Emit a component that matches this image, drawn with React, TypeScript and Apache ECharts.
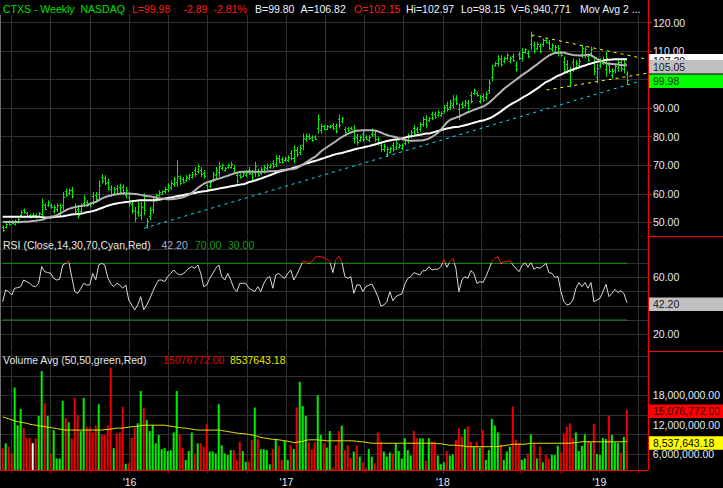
import React, { useEffect, useRef } from "react";
import * as echarts from "echarts";

const DAY = 86400000;
const FIRST_BAR_TIME = Date.UTC(2015, 2, 11);
const X_MIN = Date.UTC(2016, 0, 1) - 299.9 * DAY;
const X_MAX = Date.UTC(2016, 0, 1) + 1209 * DAY;

const highs = [
  48.9,50.1,50.7,50.7,50.9,51.5,54.2,54.8,53.6,53.0,
  53.3,53.0,53.6,58.3,56.6,57.7,56.6,56.0,56.6,56.6,
  60.6,61.8,61.8,62.4,56.6,56.0,56.6,59.5,57.7,57.1,
  60.6,60.6,64.7,66.9,66.5,65.3,63.0,62.4,63.0,63.6,
  63.3,62.4,60.1,57.7,55.4,57.1,57.1,60.1,51.3,55.4,
  58.9,60.1,61.2,61.2,62.4,63.6,64.7,65.9,71.8,66.5,
  65.9,66.5,67.1,67.7,69.4,70.4,69.4,68.3,63.6,64.7,
  67.7,69.4,71.2,70.6,69.4,70.6,71.2,70.0,67.7,67.1,
  67.7,68.3,69.4,68.3,71.2,68.8,69.4,70.0,70.6,70.6,
  71.8,73.5,73.5,72.9,72.9,73.5,75.3,77.0,76.5,77.0,
  81.1,81.1,81.1,80.5,80.5,87.9,84.6,84.1,84.1,84.1,
  84.7,84.7,87.8,87.0,83.5,83.5,83.5,84.1,81.1,80.5,
  82.3,80.5,80.5,82.9,82.3,80.0,78.2,77.6,76.5,76.5,
  78.2,78.8,77.6,77.6,79.4,81.1,82.3,84.1,83.5,85.2,
  87.0,87.6,87.0,88.8,88.8,89.3,88.8,91.1,92.3,92.9,
  94.6,94.6,91.7,92.3,92.9,92.9,95.8,96.9,95.8,94.6,
  95.2,95.8,100.0,105.1,106.3,108.6,108.6,108.1,109.2,108.1,
  109.2,106.3,109.8,111.0,111.0,110.4,116.9,113.3,113.3,112.8,
  114.5,114.5,113.9,112.8,112.2,112.2,109.8,108.1,106.9,104.6,
  107.5,106.9,107.5,112.2,111.6,109.2,111.6,107.5,105.7,107.5,
  108.1,109.8,106.3,104.0,105.7,107.5,107.5,106.9,102.97
];

const lows = [
  46.6,47.8,48.9,49.3,48.9,49.5,51.9,53.0,51.9,51.3,
  51.6,51.3,51.6,50.7,54.2,55.4,54.8,53.0,53.6,51.9,
  54.2,58.9,59.5,58.3,53.0,51.3,53.0,55.4,55.4,55.4,
  56.0,57.1,57.7,63.6,63.0,61.2,58.9,59.5,59.5,59.5,
  59.5,58.3,55.4,53.0,50.1,51.9,50.7,52.5,47.8,50.7,
  53.0,57.1,58.9,59.5,60.1,60.6,61.2,62.4,62.4,63.0,
  63.6,64.2,64.7,65.3,65.9,67.1,65.9,65.3,61.2,61.8,
  64.2,65.3,65.9,68.3,67.7,68.8,68.8,67.1,63.6,65.3,
  65.9,65.9,66.5,64.2,65.9,65.9,66.5,67.1,68.3,68.8,
  68.8,69.4,70.6,70.6,71.2,71.2,71.8,70.6,72.9,73.5,
  75.3,78.2,78.8,78.2,78.8,81.1,81.1,82.3,82.3,82.9,
  82.3,81.1,82.9,84.7,81.1,81.7,82.3,77.6,77.0,78.2,
  78.2,78.8,78.2,80.0,78.2,77.0,74.7,74.7,72.9,74.1,
  74.7,75.3,75.9,75.3,77.0,77.6,79.4,80.5,81.1,81.7,
  83.5,82.9,85.2,85.8,86.4,87.0,87.0,88.2,88.8,89.3,
  89.9,91.1,85.8,89.9,90.5,89.3,91.7,94.6,94.0,91.7,
  92.3,92.9,95.0,99.3,104.6,104.6,104.6,105.7,106.9,105.7,
  106.3,102.8,106.9,106.3,109.2,107.5,110.4,109.2,110.4,109.2,
  111.6,112.8,110.4,109.8,109.2,108.1,108.1,102.2,102.2,97.5,
  102.8,103.4,104.0,107.6,107.5,106.3,108.1,101.6,98.7,104.0,
  105.1,101.0,102.2,100.5,102.2,102.8,102.8,102.2,98.15
];

const opens = [
  48.2,48.5,50.2,50.3,49.5,50.1,52.6,54.3,53.1,52.5,
  52.4,52.5,52.2,53.0,55.9,56.1,56.1,53.9,54.5,53.3,
  56.1,60.9,60.2,61.2,55.5,54.6,54.1,56.6,57.0,56.6,
  59.2,59.6,59.8,65.9,65.5,64.1,61.8,60.4,62.0,62.4,
  62.2,59.5,58.7,56.3,53.8,53.5,52.6,57.8,48.9,52.1,
  54.8,58.0,59.6,60.0,60.8,61.5,62.3,63.5,64.0,65.5,
  65.2,64.9,65.4,66.0,68.4,68.1,68.4,67.4,62.9,62.7,
  65.3,66.5,67.5,69.0,68.2,69.3,69.5,69.1,66.5,66.6,
  66.4,66.6,68.5,67.1,67.5,67.9,67.4,68.0,69.0,69.3,
  70.9,70.6,72.6,72.2,71.7,71.9,74.3,72.5,75.4,74.6,
  77.0,79.1,80.4,79.8,80.0,83.1,82.2,83.6,82.8,83.3,
  84.0,83.6,86.3,85.4,82.8,83.0,83.1,79.6,79.9,78.9,
  81.1,80.0,78.9,80.9,81.1,79.1,77.2,75.6,74.0,74.8,
  77.2,76.4,76.4,76.0,77.7,78.7,80.3,83.0,82.8,82.8,
  84.6,86.2,85.7,87.9,88.1,87.7,87.5,89.1,91.3,90.4,
  91.3,93.6,89.9,91.6,91.2,91.8,94.6,95.3,95.3,92.6,
  94.3,93.8,96.5,101.0,105.1,105.8,107.4,106.4,107.6,106.4,
  108.3,105.2,108.9,107.7,109.7,109.5,112.4,112.1,111.3,111.7,
  112.5,114.0,112.9,110.7,110.1,109.3,109.3,106.3,105.5,102.5,
  106.1,104.5,105.1,109.0,108.7,108.3,109.2,105.7,100.8,105.1,
  106.0,103.6,105.1,101.6,103.3,104.2,106.1,103.6,102.15
];

const closes = [
  47.2,49.5,49.4,49.7,50.4,51.0,53.6,53.5,52.3,51.7,
  52.4,51.7,53.1,56.4,54.8,57.1,55.3,55.3,55.9,55.4,
  59.0,59.6,61.2,59.3,53.9,52.5,55.7,58.5,56.0,55.8,
  57.2,58.0,63.0,64.4,63.9,62.2,59.9,61.7,60.4,60.5,
  60.5,61.4,56.6,54.2,51.4,55.8,55.5,54.4,50.4,54.2,
  57.4,59.4,60.6,60.8,61.8,62.9,63.8,65.0,66.2,63.9,
  64.2,65.9,66.5,67.1,66.8,69.6,66.8,66.1,61.8,64.0,
  66.8,68.4,69.9,70.0,69.0,70.2,70.6,67.8,64.6,65.8,
  67.3,67.7,67.2,65.2,69.9,66.6,68.7,69.3,70.0,70.2,
  69.6,72.5,71.3,71.2,72.5,72.9,72.7,75.4,73.8,76.1,
  79.7,80.4,79.4,78.8,79.2,86.2,83.7,82.8,83.7,83.8,
  82.9,82.0,84.1,86.4,81.7,82.2,82.6,82.5,78.0,79.9,
  79.2,79.2,79.9,82.2,79.2,77.8,75.6,76.9,75.6,75.9,
  75.6,77.9,77.2,77.0,78.8,80.2,81.6,81.4,81.7,84.3,
  86.1,84.1,86.6,86.6,87.0,88.7,88.4,90.4,89.7,92.0,
  93.4,92.0,87.3,90.5,92.3,90.2,92.7,96.3,94.5,93.9,
  93.0,95.1,98.8,103.7,105.9,107.6,105.6,107.5,108.6,107.5,
  107.0,103.7,107.6,109.8,110.6,108.2,115.3,110.2,112.6,110.1,
  113.8,113.2,111.3,112.1,111.5,111.2,108.5,103.7,103.4,99.3,
  104.0,106.0,106.6,111.1,110.6,107.0,110.7,103.1,104.0,106.6,
  107.4,107.6,103.2,103.1,104.8,106.3,104.0,105.7,99.98
];

// weekly volume, millions of shares
const volumes = [
  7.2,8.2,7.5,6.1,19.6,11.9,15.2,11.3,9.3,9.3,
  8.2,9.2,13.8,23.0,16.4,13.8,6.1,10.9,5.1,5.1,
  16.9,13.4,12.5,9.2,17.5,14.0,10.7,17.5,11.6,11.4,
  10.4,11.8,16.2,9.9,9.9,11.8,23.7,7.2,10.2,10.4,
  15.7,4.0,4.1,9.3,11.3,12.3,18.9,15.5,13.0,10.7,
  11.9,8.2,9.9,7.0,7.2,6.6,6.8,10.4,18.9,10.0,
  7.2,4.8,6.6,10.4,6.1,8.2,8.2,7.5,12.1,6.5,
  6.5,6.1,16.2,7.8,6.1,5.8,6.8,6.8,4.8,8.5,
  6.6,4.4,4.4,8.9,15.5,9.1,7.0,7.0,6.8,3.9,
  7.0,9.0,7.6,4.8,8.7,4.8,7.8,7.0,15.5,20.8,
  15.8,13.8,8.4,7.0,8.4,18.0,9.9,8.2,7.3,10.7,
  3.2,7.8,10.7,11.8,6.8,7.8,5.2,6.5,7.8,5.45,
  4.3,3.2,7.0,5.45,4.1,10.4,8.5,6.5,5.45,6.3,
  6.1,8.2,6.6,5.1,9.2,6.8,5.7,10.7,9.2,9.2,
  9.2,4.6,9.2,8.5,8.5,5.7,3.9,4.3,6.6,5.7,
  5.9,8.9,11.3,9.6,11.1,11.7,8.5,7.5,8.5,7.3,
  10.9,4.8,6.8,13.2,11.8,10.4,8.0,4.8,6.5,7.5,
  15.7,8.9,8.2,4.8,5.1,6.1,10.0,8.2,5.1,7.5,
  4.3,5.8,5.0,5.8,5.8,7.7,6.3,10.2,11.6,12.3,
  9.2,10.4,6.6,7.7,10.0,8.7,8.4,12.1,6.0,5.8,
  9.3,9.1,13.8,9.9,8.4,8.3,6.3,9.5,15.076772
];

// G = up week, R = down week, W = unchanged
const volumeDirection =
  "RGRRGGGRRRWRGGRGRGGG" + "GRGRRRGGRRRRGRRRRGRR" + "RGRRRGGRGGGGGGGGGGGR" +
  "RGGGRGRRRGGGGGGGGRRR" + "GGRRGRGGGGRGRRGGRGRG" + "GGRRRGGRGGRRRGRRRGR" +
  "GRRGGRRRGGGRGGGGGGRRG" + "GRGRRGGGRGGRRRGRRGRG" + "RGGGGGRGGGRRRGGRGRGR" +
  "GRRGGGRRRRRGGGGRGRGG" + "GGRGGGRGR";

const volumeAvg = [
  13.6,13.4,13.2,13.0,12.8,12.6,12.5,12.4,12.3,12.1,
  12.0,11.9,11.8,11.7,11.6,11.5,11.4,11.3,11.2,11.1,
  11.0,10.9,10.9,10.9,10.9,10.9,10.9,10.9,10.9,10.9,
  10.9,10.9,10.9,10.9,11.0,11.0,11.1,11.2,11.3,11.3,
  11.3,11.4,11.5,11.6,11.6,11.7,11.8,11.9,11.9,11.9,
  11.9,11.9,11.9,11.9,11.9,11.8,11.7,11.6,11.5,11.4,
  11.3,11.3,11.2,11.1,11.0,10.9,10.9,10.9,10.9,10.9,
  10.9,10.9,10.9,10.8,10.7,10.6,10.5,10.4,10.3,10.2,
  10.2,10.1,10.0,9.9,9.8,9.6,9.4,9.3,9.2,9.1,
  9.0,9.0,8.9,8.8,8.7,8.6,8.5,8.3,8.4,8.5,
  8.6,8.8,8.9,8.9,8.9,8.9,8.8,8.8,8.7,8.7,
  8.7,8.7,8.7,8.7,8.7,8.7,8.7,8.7,8.6,8.5,
  8.5,8.4,8.3,8.2,8.2,8.2,8.2,8.2,8.2,8.2,
  8.2,8.2,8.2,8.2,8.2,8.2,8.2,8.2,8.2,8.2,
  8.2,8.2,8.2,8.2,8.2,8.1,8.1,8.0,7.9,7.8,
  7.8,7.8,7.7,7.7,7.6,7.5,7.5,7.5,7.5,7.5,
  7.5,7.5,7.5,7.5,7.5,7.5,7.6,7.7,7.8,7.9,
  8.0,8.0,8.0,8.0,8.0,8.1,8.2,8.2,8.2,8.2,
  8.2,8.2,8.2,8.2,8.2,8.2,8.2,8.2,8.2,8.2,
  8.3,8.3,8.4,8.5,8.5,8.5,8.5,8.5,8.5,8.5,
  8.5,8.5,8.5,8.5,8.5,8.5,8.5,8.5,8.53764318
];

const rsiValues = [
  42.9,51.2,50.0,47.6,52.4,52.8,53.5,58.2,57.1,55.9,
  54.0,53.5,55.9,67.6,64.1,63.5,62.9,59.4,58.2,58.8,
  68.8,70.0,71.6,60.6,50.0,48.8,52.0,55.9,54.7,54.7,
  62.9,58.2,68.8,70.0,68.8,60.0,55.9,53.5,55.9,54.7,
  52.4,54.7,44.1,40.6,37.1,40.6,46.5,37.1,40.6,45.0,
  50.0,54.7,58.2,58.2,57.1,60.6,62.9,65.3,62.9,61.8,
  62.5,64.1,66.5,67.6,66.5,68.8,62.9,53.5,54.7,59.4,
  62.9,66.5,68.8,60.6,58.2,62.9,58.2,52.4,50.0,55.9,
  55.9,55.9,52.4,51.2,50.0,53.5,50.0,55.9,59.4,60.6,
  52.4,61.8,62.9,60.6,59.4,62.9,65.3,58.2,62.0,66.5,
  71.2,71.2,70.0,71.2,74.2,74.7,74.7,74.0,73.0,71.2,
  63.4,72.4,75.2,71.2,60.6,59.4,60.6,48.8,54.7,54.7,
  50.0,53.5,54.5,55.4,51.2,46.5,39.9,40.6,42.9,50.0,
  43.6,46.5,47.6,48.4,55.4,59.4,60.6,63.4,62.5,61.8,
  64.8,64.8,67.6,65.3,65.8,65.8,67.6,72.4,67.2,71.2,
  73.5,66.5,50.0,58.2,60.6,59.4,64.8,62.9,55.9,57.1,
  56.4,60.6,65.8,71.2,73.5,74.7,70.0,71.2,71.2,71.9,
  68.8,66.5,64.1,68.1,70.7,67.2,70.7,65.8,67.2,66.5,
  68.1,70.0,63.4,62.9,60.1,60.6,50.0,42.9,40.6,41.3,
  44.1,52.4,56.4,53.5,56.4,52.4,56.4,42.9,44.1,45.3,
  50.0,55.2,46.5,48.8,51.6,49.3,50.7,48.5,42.2
];

const maFast = [
  50.1,50.1,50.1,50.1,50.1,50.1,50.1,50.2,50.2,50.3,
  50.4,50.5,50.7,50.9,51.2,51.6,51.9,52.1,52.4,53.0,
  53.6,54.2,54.7,55.0,55.3,55.5,55.7,55.9,56.0,56.4,
  56.8,57.1,57.7,58.3,58.8,59.1,59.4,59.6,59.8,60.0,
  60.1,60.1,60.1,60.0,59.9,59.8,59.6,59.4,59.2,59.1,
  58.9,58.7,58.4,58.3,58.2,58.1,58.1,58.2,58.3,58.5,
  58.8,59.1,59.6,60.3,61.1,62.0,62.8,63.5,64.0,64.3,
  64.6,65.0,65.3,65.6,66.0,66.3,66.7,67.1,67.4,67.6,
  67.7,67.7,67.7,67.7,67.7,67.7,67.7,67.7,67.8,67.9,
  67.9,68.0,68.1,68.3,68.4,68.5,68.6,68.7,69.0,69.6,
  70.2,70.9,71.6,72.3,72.9,73.8,74.8,75.6,76.3,77.0,
  77.7,78.4,79.2,79.9,80.5,81.0,81.5,81.9,82.1,82.2,
  82.3,82.3,82.3,82.3,82.2,81.9,81.5,81.0,80.6,80.3,
  80.1,79.8,79.5,79.1,78.9,78.7,78.6,78.6,78.7,78.7,
  78.8,79.0,79.4,79.9,80.6,81.4,82.5,83.8,85.0,85.9,
  86.3,86.7,87.1,87.6,88.1,88.6,89.0,89.4,89.8,90.2,
  90.6,91.2,91.9,92.8,93.8,94.8,95.8,96.8,97.6,98.4,
  99.2,100.0,100.8,101.6,102.3,103.0,103.8,104.6,105.3,106.2,
  107.0,107.8,108.5,109.0,109.4,109.5,109.6,109.5,109.2,108.9,
  108.7,108.6,108.5,108.5,108.6,108.8,108.6,107.9,107.3,106.8,
  106.3,105.8,105.6,105.5,105.4,105.3,105.2,105.1,105.05
];

const maSlow = [
  51.9,51.9,51.9,51.9,51.9,51.9,51.9,51.9,51.9,51.9,
  51.9,51.9,51.9,51.8,51.7,51.7,51.7,51.8,51.9,52.0,
  52.1,52.3,52.5,52.7,52.8,52.9,53.0,53.2,53.5,53.7,
  53.9,54.2,54.6,55.0,55.4,55.8,56.1,56.4,56.6,56.8,
  56.9,57.1,57.2,57.4,57.5,57.6,57.7,57.7,57.7,57.7,
  57.7,57.8,57.9,58.1,58.3,58.5,58.7,58.9,59.1,59.3,
  59.5,59.7,59.9,60.1,60.3,60.5,60.7,60.9,61.0,61.2,
  61.4,61.6,61.8,62.0,62.2,62.4,62.6,62.8,63.0,63.2,
  63.3,63.6,64.1,64.3,64.6,65.0,65.3,65.7,66.1,66.5,
  66.9,67.3,67.7,68.0,68.2,68.5,68.8,69.1,69.4,69.8,
  70.2,70.6,70.9,71.2,71.5,71.8,72.2,72.5,72.9,73.2,
  73.6,73.9,74.1,74.3,74.6,74.9,75.2,75.5,75.8,76.0,
  76.2,76.5,76.7,77.0,77.3,77.6,77.9,78.2,78.5,78.7,
  78.9,79.0,79.1,79.4,79.7,80.0,80.2,80.3,80.5,80.7,
  80.9,81.1,81.1,81.4,81.7,82.0,82.3,82.6,82.9,83.1,
  83.3,83.4,83.5,83.8,84.0,84.3,84.6,84.9,85.2,85.5,
  85.7,86.0,86.4,86.9,87.5,88.2,88.9,89.7,90.5,91.2,
  91.8,92.3,92.9,93.6,94.2,94.8,95.5,96.2,96.9,97.6,
  98.4,99.2,99.6,100.2,100.8,101.4,101.8,102.3,102.8,103.2,
  103.6,104.0,104.3,104.7,105.0,105.4,105.7,106.0,106.3,106.5,
  106.7,106.9,107.0,107.1,107.2,107.2,107.2,107.2,107.2
];

// trend lines: [week index, price]
const trendCyan = [[47.1, 47.9], [211.7, 99.3]];
const trendYellowUpper = [[176.2, 115.7], [214.6, 107.2]];
const trendYellowLower = [[181.2, 96.4], [214.6, 102.25]];

const RSI_UPPER = 70;
const RSI_LOWER = 30;

const priceTicks = [50, 60, 70, 80, 90, 100, 110, 120];
const priceLabels = [50, 60, 70, 80, 90, 110, 120];
const rsiGrid = [20, 30, 40, 50, 60, 70, 80];
const rsiLabels = [20, 60];
const volumeGrid = [6, 10, 14, 18, 22, 26];
const volumeLabels = [6, 12, 18];
const yearLabels = [2016, 2017, 2018, 2019];

const headerItems = [
  { text: "CTXS - Weekly", color: "#00e000", x: 3 },
  { text: "NASDAQ", color: "#00e000", x: 80.5 },
  { text: "L=99.98", color: "#ff1a1a", x: 132 },
  { text: "-2.89", color: "#ff1a1a", x: 183.5 },
  { text: "-2.81%", color: "#ff1a1a", x: 213.5 },
  { text: "B=99.80", color: "#eef2ff", x: 255 },
  { text: "A=106.82", color: "#eef2ff", x: 300.5 },
  { text: "O=102.15", color: "#ff1a1a", x: 354 },
  { text: "Hi=102.97", color: "#eef2ff", x: 406 },
  { text: "Lo=98.15", color: "#eef2ff", x: 461 },
  { text: "V=6,940,771", color: "#eef2ff", x: 511 },
  { text: "Mov Avg 2 ...", color: "#eef2ff", x: 580 }
];

const FONT = '"Liberation Sans", Arial, sans-serif';
const FS = 10.5;
const GRID_COLOR = "#303030";
const AXIS_TEXT = "#e4eaf4";
const GREEN = "#00ee00";

const weekTime = (i: number) => FIRST_BAR_TIME + i * 7 * DAY;

const quarterTicks: number[] = [];
for (let y = 2015; y <= 2019; y++) {
  for (const m of [0, 3, 6, 9]) {
    const t = Date.UTC(y, m, 1);
    if (t > X_MIN && t < X_MAX) quarterTicks.push(t);
  }
}
const yearTicks = yearLabels.map((y) => Date.UTC(y, 0, 1));

function fmtVol(v: number) {
  return (v * 1e6).toLocaleString("en-US", { minimumFractionDigits: 2, maximumFractionDigits: 2 });
}

export default function App() {
  const ref = useRef<HTMLDivElement>(null);

  useEffect(() => {
    document.body.style.margin = "0";
    document.body.style.background = "#000";
    const chart = echarts.init(ref.current!, null, { renderer: "svg" });

    const grids = [
      { left: 1, right: 75, top: 15, height: 221 },
      { left: 1, right: 75, top: 237, height: 114 },
      { left: 1, right: 75, top: 352, height: 118 }
    ];

    const xAxes = [0, 1, 2].map((g) => ({
      type: "value",
      gridIndex: g,
      min: X_MIN,
      max: X_MAX,
      axisLine: g === 2 ? { show: true, lineStyle: { color: "#ff0000", width: 1 } } : { show: false },
      axisTick: {
        show: g === 2,
        customValues: quarterTicks,
        length: 3,
        lineStyle: { color: "#c00000" }
      },
      axisLabel: {
        show: g === 2,
        customValues: yearTicks,
        formatter: (v: number) => "'" + String(new Date(v).getUTCFullYear()).slice(2),
        color: AXIS_TEXT,
        fontFamily: FONT,
        fontSize: FS,
        margin: 6
      },
      splitLine: { show: true, lineStyle: { color: GRID_COLOR, width: 1 } }
    }));

    const yAxes = [
      {
        type: "value",
        gridIndex: 0,
        position: "right",
        min: 45.18,
        max: 122.7,
        axisLine: { show: false },
        axisTick: { show: true, customValues: priceTicks, length: 4, inside: false, lineStyle: { color: "#ff0000" } },
        axisLabel: {
          customValues: priceLabels,
          formatter: (v: number) => v.toFixed(2),
          color: AXIS_TEXT,
          fontFamily: FONT,
          fontSize: FS,
          margin: 5
        },
        splitLine: { show: true, lineStyle: { color: GRID_COLOR } }
      },
      {
        type: "value",
        gridIndex: 1,
        position: "right",
        min: 8.13,
        max: 88.55,
        axisLine: { show: false },
        axisTick: { show: false, customValues: rsiGrid },
        axisLabel: {
          customValues: rsiLabels,
          formatter: (v: number) => v.toFixed(2),
          color: AXIS_TEXT,
          fontFamily: FONT,
          fontSize: FS,
          margin: 5
        },
        splitLine: { show: true, lineStyle: { color: GRID_COLOR } }
      },
      {
        type: "value",
        gridIndex: 2,
        position: "right",
        min: 2.723,
        max: 26.89,
        axisLine: { show: false },
        axisTick: { show: false, customValues: volumeGrid },
        axisLabel: {
          customValues: volumeLabels,
          formatter: (v: number) => fmtVol(v),
          color: AXIS_TEXT,
          fontFamily: FONT,
          fontSize: FS,
          margin: 5
        },
        splitLine: { show: true, lineStyle: { color: GRID_COLOR } }
      }
    ];

    const ohlcData = highs.map((h, i) => [weekTime(i), opens[i], h, lows[i], closes[i]]);
    const lineData = (arr: number[]) => arr.map((v, i) => [weekTime(i), v]);
    const trendData = (arr: number[][]) => arr.map((p) => [weekTime(p[0]), p[1]]);
    const dirColor = (d: string) => (d === "G" ? "#00f000" : d === "R" ? "#f00000" : "#ffffff");
    const last = highs.length - 1;

    const series: any[] = [
      {
        type: "custom",
        name: "price",
        xAxisIndex: 0,
        yAxisIndex: 0,
        silent: true,
        z: 2,
        encode: { x: 0, y: [1, 2, 3, 4] },
        data: ohlcData,
        renderItem: (params: any, api: any) => {
          const t = api.value(0);
          const pH = api.coord([t, api.value(2)]);
          const pL = api.coord([t, api.value(3)]);
          const pO = api.coord([t, api.value(1)]);
          const pC = api.coord([t, api.value(4)]);
          const x = Math.round(pH[0]) + 0.5;
          const yo = Math.round(pO[1]) + 0.5;
          const yc = Math.round(pC[1]) + 0.5;
          const st = { stroke: GREEN, lineWidth: 1 };
          return {
            type: "group",
            children: [
              { type: "line", shape: { x1: x, y1: pH[1], x2: x, y2: pL[1] }, style: st },
              { type: "line", shape: { x1: x - 1.5, y1: yo, x2: x, y2: yo }, style: st },
              { type: "line", shape: { x1: x, y1: yc, x2: x + 1.5, y2: yc }, style: st }
            ]
          };
        }
      },
      {
        type: "line", name: "maSlow", xAxisIndex: 0, yAxisIndex: 0, silent: true, z: 3,
        data: lineData(maSlow), showSymbol: false, symbol: "none",
        lineStyle: { color: "#ffffff", width: 2 }
      },
      {
        type: "line", name: "maFast", xAxisIndex: 0, yAxisIndex: 0, silent: true, z: 3,
        data: lineData(maFast), showSymbol: false, symbol: "none",
        lineStyle: { color: "#b4b4b4", width: 2 }
      },
      {
        type: "line", xAxisIndex: 0, yAxisIndex: 0, silent: true, z: 4,
        data: trendData(trendCyan), symbol: "none",
        lineStyle: { color: "#00e5ff", width: 1, type: [3, 4] }
      },
      {
        type: "line", xAxisIndex: 0, yAxisIndex: 0, silent: true, z: 4,
        data: trendData(trendYellowUpper), symbol: "none",
        lineStyle: { color: "#ffff00", width: 1, type: [3, 4] }
      },
      {
        type: "line", xAxisIndex: 0, yAxisIndex: 0, silent: true, z: 4,
        data: trendData(trendYellowLower), symbol: "none",
        lineStyle: { color: "#ffff00", width: 1, type: [3, 4] }
      },
      {
        type: "line", xAxisIndex: 1, yAxisIndex: 1, silent: true, z: 2,
        data: [[weekTime(0), RSI_UPPER], [weekTime(last), RSI_UPPER]], symbol: "none",
        lineStyle: { color: "#129012", width: 1 }
      },
      {
        type: "line", xAxisIndex: 1, yAxisIndex: 1, silent: true, z: 2,
        data: [[weekTime(0), RSI_LOWER], [weekTime(last), RSI_LOWER]], symbol: "none",
        lineStyle: { color: "#129012", width: 1 }
      },
      {
        type: "line", name: "rsi", xAxisIndex: 1, yAxisIndex: 1, silent: true, z: 3,
        data: lineData(rsiValues), symbol: "none",
        lineStyle: { width: 1 }
      },
      {
        type: "bar", name: "volume", xAxisIndex: 2, yAxisIndex: 2, silent: true, z: 2,
        barWidth: 2,
        data: volumes.map((v, i) => ({ value: [weekTime(i), v], itemStyle: { color: dirColor(volumeDirection[i]) } }))
      },
      {
        type: "line", name: "volAvg", xAxisIndex: 2, yAxisIndex: 2, silent: true, z: 3,
        data: lineData(volumeAvg), symbol: "none",
        lineStyle: { color: "#e6e600", width: 1 }
      }
    ];

    chart.setOption({
      animation: false,
      backgroundColor: "#000000",
      grid: grids,
      xAxis: xAxes,
      yAxis: yAxes,
      visualMap: [
        {
          show: false,
          type: "piecewise",
          seriesIndex: 8,
          dimension: 1,
          pieces: [
            { gt: 70, lte: 100, color: "#ff1010" },
            { gte: 0, lte: 70, color: "#d8d8d8" }
          ],
          outOfRange: { color: "#d8d8d8" }
        }
      ],
      series
    });

    const textEl = (text: string, x: number, y: number, color: string, z = 10) => ({
      type: "text",
      z,
      silent: true,
      style: { text, x, y, fill: color, font: `${FS}px ${FONT}`, verticalAlign: "middle", align: "left" }
    });

    const elements: any[] = [];
    elements.push({ type: "line", z: 5, silent: true, shape: { x1: 648.5, y1: 0, x2: 648.5, y2: 470 }, style: { stroke: "#ff0000", lineWidth: 1 } });
    elements.push({ type: "line", z: 5, silent: true, shape: { x1: 648, y1: 236.5, x2: 723, y2: 236.5 }, style: { stroke: "#ff0000", lineWidth: 1 } });
    elements.push({ type: "line", z: 5, silent: true, shape: { x1: 648, y1: 351.5, x2: 723, y2: 351.5 }, style: { stroke: "#ff0000", lineWidth: 1 } });
    elements.push({ type: "line", z: 5, silent: true, shape: { x1: 0.5, y1: 15, x2: 0.5, y2: 470 }, style: { stroke: "#6a6a6a", lineWidth: 1 } });

    headerItems.forEach((h) => elements.push(textEl(h.text, h.x, 9, h.color)));

    elements.push(textEl("RSI (Close,14,30,70,Cyan,Red)", 3, 245, "#e8e8e8"));
    elements.push(textEl(rsiValues[last].toFixed(2), 161.5, 245, "#9fb4d4"));
    elements.push(textEl(RSI_UPPER.toFixed(2), 195, 245, "#1a9a1a"));
    elements.push(textEl(RSI_LOWER.toFixed(2), 228, 245, "#1a9a1a"));
    elements.push(textEl("Volume Avg (50,50,green,Red)", 3, 360, "#e8e8e8"));
    elements.push(textEl((volumes[last] * 1e6).toFixed(2), 163, 360, "#e00000"));
    elements.push(textEl((volumeAvg[last] * 1e6).toFixed(2), 230, 360, "#e6e600"));

    const boxes = [
      { axis: 0, value: maSlow[last], label: maSlow[last].toFixed(2), fill: "#ffffff", color: "#000000", dy: 1.5 },
      { axis: 0, value: maFast[last], label: maFast[last].toFixed(2), fill: "#c0c0c0", color: "#1a1a1a", dy: 1.5 },
      { axis: 0, value: closes[last], label: closes[last].toFixed(2), fill: "#00ff00", color: "#0a300a", dy: 1.5 },
      { axis: 1, value: rsiValues[last], label: rsiValues[last].toFixed(2), fill: "#c0c0c0", color: "#1a1a1a", dy: 1.5 },
      { axis: 2, value: volumes[last], label: fmtVol(volumes[last]), fill: "#ff0000", color: "#3a0000", dy: 1.5 },
      { axis: 2, value: volumeAvg[last], label: fmtVol(volumeAvg[last]), fill: "#ffff00", color: "#000000", dy: 1.5 }
    ];
    boxes.forEach((b, i) => {
      const py = chart.convertToPixel({ yAxisIndex: b.axis } as any, b.value) as unknown as number;
      const cy = py + b.dy;
      elements.push({ type: "rect", z: 20 + i * 2, silent: true, shape: { x: 649, y: cy - 6.75, width: 74, height: 13.5 }, style: { fill: b.fill } });
      elements.push(textEl(b.label, 653, cy, b.color, 21 + i * 2));
    });

    chart.setOption({ graphic: { elements } });

    return () => chart.dispose();
  }, []);

  return <div ref={ref} style={{ position: "fixed", left: 0, top: 0, width: 723, height: 488, background: "#000" }} />;
}
